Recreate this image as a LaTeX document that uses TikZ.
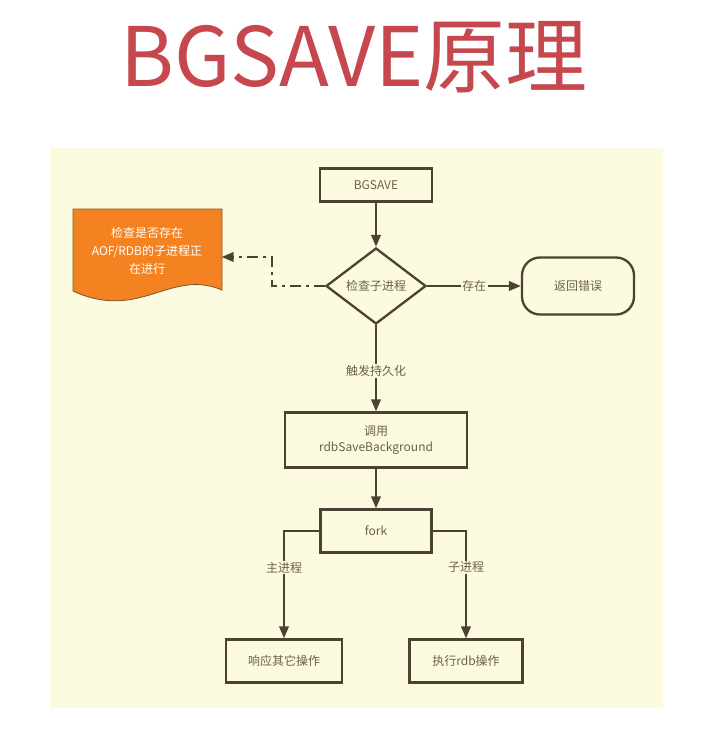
\documentclass[tikz,border=0pt]{standalone}
\usepackage{fontspec}
\setmainfont{Noto Sans CJK SC}
\usetikzlibrary{arrows.meta,shapes.geometric}
\definecolor{panel}{HTML}{FDFBDF}
\definecolor{ln}{HTML}{4B4232}
\definecolor{tx}{HTML}{6A604E}
\definecolor{ttl}{HTML}{C6474D}
\definecolor{org}{HTML}{F58220}
\begin{document}
\begin{tikzpicture}[x=1pt,y=-1pt,
  box/.style={draw=ln,line width=2.3pt,fill=panel,text=tx,font=\fontsize{12}{16}\selectfont,align=center,inner sep=0pt},
  arr/.style={draw=ln,line width=2.2pt,-{Triangle[length=12pt,width=9.5pt]}},
  dd/.style={draw=ln,line width=2.2pt,dash pattern=on 11pt off 5pt on 3pt off 5pt,-{Triangle[length=12pt,width=9.5pt]}},
  lbl/.style={fill=panel,text=tx,font=\fontsize{12}{14}\selectfont,inner sep=1.5pt}]
\useasboundingbox (0,0) rectangle (703,730);
\fill[white] (0,0) rectangle (703,730);
\fill[panel] (50,148) rectangle (663,708);
\node[text=ttl,font=\fontsize{82}{90}\selectfont] (title) at (354,57) {BGSAVE原理};

% orange document shape
\draw[draw=ln!70!org,line width=0.8pt,fill=org] (73,209) -- (222,209) -- (222,290)
  .. controls (170,268) and (140,322) .. (73,291) -- cycle;
\node[text=white,font=\fontsize{12}{18}\selectfont,align=center,minimum width=149pt,inner sep=0pt] (doc) at (147,251)
  {检查是否存在\\AOF/RDB的子进程正\\在进行};

\node[box,minimum width=112pt,minimum height=33pt] (bg) at (376,185) {BGSAVE};
\node[box,diamond,minimum width=100pt,minimum height=76pt,aspect=1.3] (chk) at (376,286) {检查子进程};
\node[box,rounded corners=18pt,minimum width=112pt,minimum height=57pt] (err) at (578,286) {返回错误};
\node[box,minimum width=182pt,minimum height=55pt] (rdb) at (376,440) {调用\\rdbSaveBackground};
\node[box,minimum width=111pt,minimum height=43pt] (fork) at (376,531) {fork};
\node[box,minimum width=116pt,minimum height=43pt] (resp) at (284,661) {响应其它操作};
\node[box,minimum width=113pt,minimum height=43pt] (exec) at (466,661) {执行rdb操作};

\draw[arr] (bg) -- (chk);
\draw[arr] (chk) -- node[lbl]{存在} (err);
\draw[arr] (chk) -- node[lbl,pos=0.53]{触发持久化} (rdb);
\draw[arr] (rdb) -- (fork);
\draw[arr] (fork.west) -| node[lbl,pos=0.67]{主进程} (resp);
\draw[arr] (fork.east) -| node[lbl,pos=0.67]{子进程} (exec);
\draw[dd] (chk.west) -- ++(-53,0) |- ([yshift=-6pt]doc.east);
\end{tikzpicture}
\end{document}
